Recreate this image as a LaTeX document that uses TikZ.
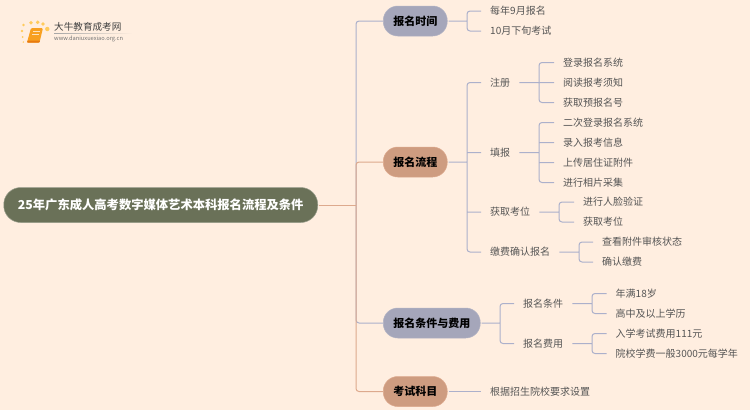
\documentclass[tikz,border=0pt]{standalone}
\usepackage{fontspec}
\setmainfont{Noto Sans CJK SC}
\usetikzlibrary{fadings}
\definecolor{bgc}{HTML}{FFEEE0}
\definecolor{rootc}{HTML}{6A7158}
\definecolor{grayb}{HTML}{A5A6BA}
\definecolor{peach}{HTML}{CE9C80}
\definecolor{lineb}{HTML}{ACB0CB}
\definecolor{linep}{HTML}{DDA98D}
\definecolor{leaft}{HTML}{555555}
\definecolor{dotc}{HTML}{FFCB5C}
\definecolor{booka}{HTML}{F8A020}
\definecolor{bookb}{HTML}{E87A10}
\tikzset{
 rootn/.style={rounded corners=17pt,fill=rootc,draw=rootc!70!white,line width=.5pt,text=white,font=\fontsize{12.3}{14}\selectfont\bfseries,minimum height=35pt,minimum width=314pt,inner sep=0pt,anchor=west},
 branch/.style={rounded corners=14.5pt,line width=.5pt,text=black,font=\fontsize{11}{13}\selectfont\bfseries,minimum height=30pt,inner sep=0pt,anchor=west},
 bg1/.style={branch,fill=grayb,draw=grayb!85!white},
 bg2/.style={branch,fill=peach,draw=linep},
 leaf/.style={text=leaft,font=\fontsize{10}{12}\selectfont,inner xsep=9pt,inner ysep=1pt,anchor=west},
 conn/.style={draw=lineb,line width=1pt,rounded corners=3pt},
 connp/.style={draw=linep,line width=1pt,rounded corners=3pt},
}
\begin{document}
\begin{tikzpicture}[x=1pt,y=-1pt]
\useasboundingbox (0,0) rectangle (750,410);
\fill[bgc] (0,0) rectangle (750,410);
% logo
\foreach \a/\b/\r in {22/31/1.3,23.5/25/1.4,22.7/37/1,23.3/42/.8,31/22.7/1.8,37.7/22.3/1.9,43/24/1.9,47.3/29/2.2}
  \fill[dotc] (\a,\b) circle (\r);
\fill[booka,rounded corners=1.2pt] (31,28) -- (43,28) -- (39.5,42.5) -- (27,42.5) -- cycle;
\fill[bookb,rounded corners=.5pt] (27,42.5) -- (39.5,42.5) -- (40,40.5) -- (27.6,40.5) -- cycle;
\draw[white!70!booka,line width=.7pt] (33,31.5) -- (39.5,31.5) (32.3,34.5) -- (38.8,34.5);
\node[font=\fontsize{9.6}{11}\selectfont,text=black!75,inner sep=0pt,anchor=west] (logoname) at (54,27) {大牛教育成考网};
\node[font=\fontsize{5.7}{7}\selectfont,text=black!55,inner sep=0pt,anchor=west] (logourl) at (54,38.5) {www.daniuxuexiao.org.cn};
\fill[black!35,path fading=east] (54,33.2) rectangle (132,33.9);
% nodes
\node[rootn] (root) at (3.5,205) {25年广东成人高考数字媒体艺术本科报名流程及条件};
\node[bg1,minimum width=64pt] (b1) at (383,21) {报名时间};
\node[bg2,minimum width=64pt] (b2) at (383,162) {报名流程};
\node[bg1,minimum width=97pt] (b3) at (383,323) {报名条件与费用};
\node[bg2,minimum width=64pt] (b4) at (383,391.5) {考试科目};
\coordinate (bus) at (356,205);
% level 2
\node[leaf] (t1) at (481,11) {每年9月报名};
\node[leaf] (t2) at (481,31) {10月下旬考试};
\node[leaf] (p1) at (481,82.5) {注册};
\node[leaf] (p2) at (481,152.5) {填报};
\node[leaf] (p3) at (481,212) {获取考位};
\node[leaf] (p4) at (481,252) {缴费确认报名};
\node[leaf] (c1) at (514,303.5) {报名条件};
\node[leaf] (c2) at (514,343.5) {报名费用};
\node[leaf] (s1) at (481,391.5) {根据招生院校要求设置};
% level 3
\node[leaf] (p11) at (554,62.5) {登录报名系统};
\node[leaf] (p12) at (554,82.5) {阅读报考须知};
\node[leaf] (p13) at (554,102.5) {获取预报名号};
\node[leaf] (p21) at (554,122.5) {二次登录报名系统};
\node[leaf] (p22) at (554,142.5) {录入报考信息};
\node[leaf] (p23) at (554,162.5) {上传居住证附件};
\node[leaf] (p24) at (554,182.5) {进行相片采集};
\node[leaf] (p31) at (574,202) {进行人脸验证};
\node[leaf] (p32) at (574,222) {获取考位};
\node[leaf] (p41) at (593,242) {查看附件审核状态};
\node[leaf] (p42) at (593,262) {确认缴费};
\node[leaf] (c11) at (606.5,293.5) {年满18岁};
\node[leaf] (c12) at (606.5,313.5) {高中及以上学历};
\node[leaf] (c21) at (606.5,333.5) {入学考试费用111元};
\node[leaf] (c22) at (606.5,353.5) {院校学费一般3000元每学年};
% connectors (each tree is one path, so that shared stretches are not darkened)
\draw[conn] (b1.west) -| (bus) |- (b3.west);
\draw[connp] (b2.west) -| (bus) |- (b4.west);
\draw[connp] ([xshift=.5pt]root.east) -- (bus);
\draw[conn] ([xshift=1pt]b1.east) -- (467,21) (t1.west) -| (467,21) |- (t2.west);
\draw[conn] ([xshift=1pt]b2.east) -- (467,162) (p1.west) -| (467,162) |- (p4.west) (467,212) -- (p3.west) (467,152.5) -- (p2.west);
\draw[conn] ([xshift=1pt]b3.east) -- (500,323) (c1.west) -| (500,323) |- (c2.west);
\draw[conn] ([xshift=1pt]b4.east) -- (s1.west);
\draw[conn] (p1.east) -- (p12.west) (p11.west) -| (539,82.5) |- (p13.west);
\draw[conn] (p2.east) -- (539,152.5) (p21.west) -| (539,152.5) |- (p24.west) (539,142.5) -- (p22.west) (539,162.5) -- (p23.west);
\draw[conn] (p3.east) -- (559,212) (p31.west) -| (559,212) |- (p32.west);
\draw[conn] (p4.east) -- (579,252) (p41.west) -| (579,252) |- (p42.west);
\draw[conn] (c1.east) -- (592,303.5) (c11.west) -| (592,303.5) |- (c12.west);
\draw[conn] (c2.east) -- (592,343.5) (c21.west) -| (592,343.5) |- (c22.west);
\end{tikzpicture}
\end{document}
